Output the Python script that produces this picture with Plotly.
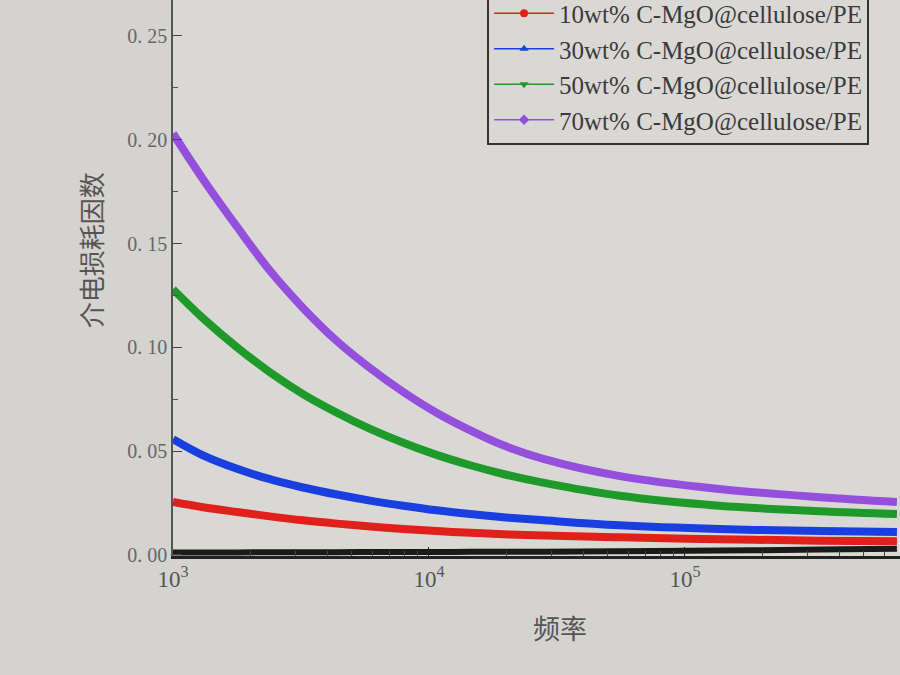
import plotly.graph_objects as go

freq = [1000, 1310, 1780, 2390, 3220, 4370, 5890, 7940, 10700, 14500, 19500, 28200,
        55700, 136000, 337000, 673000]

pe = [0.0012, 0.0012, 0.0012, 0.0013, 0.0013, 0.0013, 0.0014, 0.0014, 0.0014, 0.0015,
      0.0015, 0.0016, 0.0018, 0.0021, 0.0026, 0.0030]
c10 = [0.0255, 0.0230, 0.0207, 0.0186, 0.0167, 0.0151, 0.0137, 0.0125, 0.0115, 0.0107,
       0.0100, 0.0094, 0.0085, 0.0076, 0.0069, 0.0066]
c30 = [0.0558, 0.0480, 0.0415, 0.0365, 0.0325, 0.0291, 0.0262, 0.0237, 0.0215, 0.0197,
       0.0182, 0.0167, 0.0143, 0.0125, 0.0115, 0.0110]
c50 = [0.128, 0.114, 0.100, 0.088, 0.0775, 0.0685, 0.0607, 0.0540, 0.0482, 0.0432,
       0.0390, 0.0347, 0.0285, 0.0237, 0.0211, 0.0197]
c70 = [0.203, 0.181, 0.158, 0.137, 0.119, 0.103, 0.090, 0.0785, 0.0685, 0.0600,
       0.0528, 0.0462, 0.0380, 0.0318, 0.0278, 0.0255]

names = ["10wt% C-MgO@cellulose/PE", "30wt% C-MgO@cellulose/PE",
         "50wt% C-MgO@cellulose/PE", "70wt% C-MgO@cellulose/PE"]
colors = ["#e0201a", "#1a3fe0", "#1f9a2a", "#9450dc"]
symbols = ["circle", "triangle-up", "triangle-down", "diamond"]

y_tickvals = [0, 0.05, 0.10, 0.15, 0.20, 0.25]
y_ticktext = ["0. 00", "0. 05", "0. 10", "0. 15", "0. 20", "0. 25"]
x_tickvals = [1000, 10000, 100000]
x_ticktext = ["10<sup>3</sup>", "10<sup>4</sup>", "10<sup>5</sup>"]
x_title = "频率"
y_title = "介电损耗因数"

fig = go.Figure()

fig.add_trace(go.Scatter(x=freq, y=pe, mode="lines", line=dict(color="#1a1a1a", width=6, shape="spline"),
                         showlegend=False, cliponaxis=False))

for ys, nm, col, sym in zip([c10, c30, c50, c70], names, colors, symbols):
    fig.add_trace(go.Scatter(x=freq, y=ys, mode="lines", line=dict(color=col, width=8, shape="spline"),
                             legendgroup=nm, showlegend=False))
    # legend-only entry with the marker in the middle of the line
    fig.add_trace(go.Scatter(x=[None], y=[None], mode="lines+markers", name=nm, legendgroup=nm,
                             line=dict(color=col, width=1.5),
                             marker=dict(color=col, symbol=sym, size=8)))

fig.update_layout(
    width=900, height=675,
    margin=dict(l=173, r=0, t=0, b=119, autoexpand=False),
    paper_bgcolor="#d5d3cf",
    plot_bgcolor="#dad8d4",
    font=dict(family="Liberation Serif", color="#555555"),
    legend=dict(x=0.432, y=0.740, xanchor="left", yanchor="bottom",
                bgcolor="#dad8d4", bordercolor="#333333", borderwidth=2,
                font=dict(family="Liberation Serif", size=25, color="#3a3a3a"),
                tracegroupgap=0, itemwidth=60, entrywidth=380, entrywidthmode="pixels"),
)

# axis titles as annotations, so they can sit off-centre like in the photo
fig.add_annotation(text=y_title, xref="paper", yref="paper", x=-0.114, y=0.55,
                   textangle=-90, showarrow=False, xanchor="center", yanchor="middle",
                   font=dict(family="Noto Sans CJK SC", size=26, color="#555555"))
fig.add_annotation(text=x_title, xref="paper", yref="paper", x=0.532, y=-0.129,
                   showarrow=False, xanchor="center", yanchor="middle",
                   font=dict(family="Noto Sans CJK SC", size=27, color="#555555"))

fig.update_xaxes(type="log", range=[3, 5.84], showgrid=False, zeroline=False,
                 showline=True, linecolor="#222222", linewidth=3,
                 tickmode="array", tickvals=x_tickvals, ticktext=x_ticktext,
                 ticks="inside", ticklen=9, tickcolor="#222222",
                 minor=dict(ticks="inside", ticklen=5, dtick="D1", tickcolor="#444444"),
                 tickfont=dict(family="Liberation Serif", size=23, color="#555555"))

fig.update_yaxes(range=[-0.0005, 0.2673], showgrid=False, zeroline=False,
                 showline=True, linecolor="#555555", linewidth=1.5,
                 tickmode="array", tickvals=y_tickvals, ticktext=y_ticktext,
                 ticks="inside", ticklen=9, tickcolor="#444444",
                 minor=dict(ticks="inside", ticklen=5, dtick=0.025, tick0=0, tickcolor="#555555"),
                 tickfont=dict(family="Liberation Serif", size=20, color="#666666"))

# drop the page's default body margin so the figure fills the window
fig.write_html("out.html", config={"displayModeBar": False},
               post_script="document.body.style.margin='0';")
